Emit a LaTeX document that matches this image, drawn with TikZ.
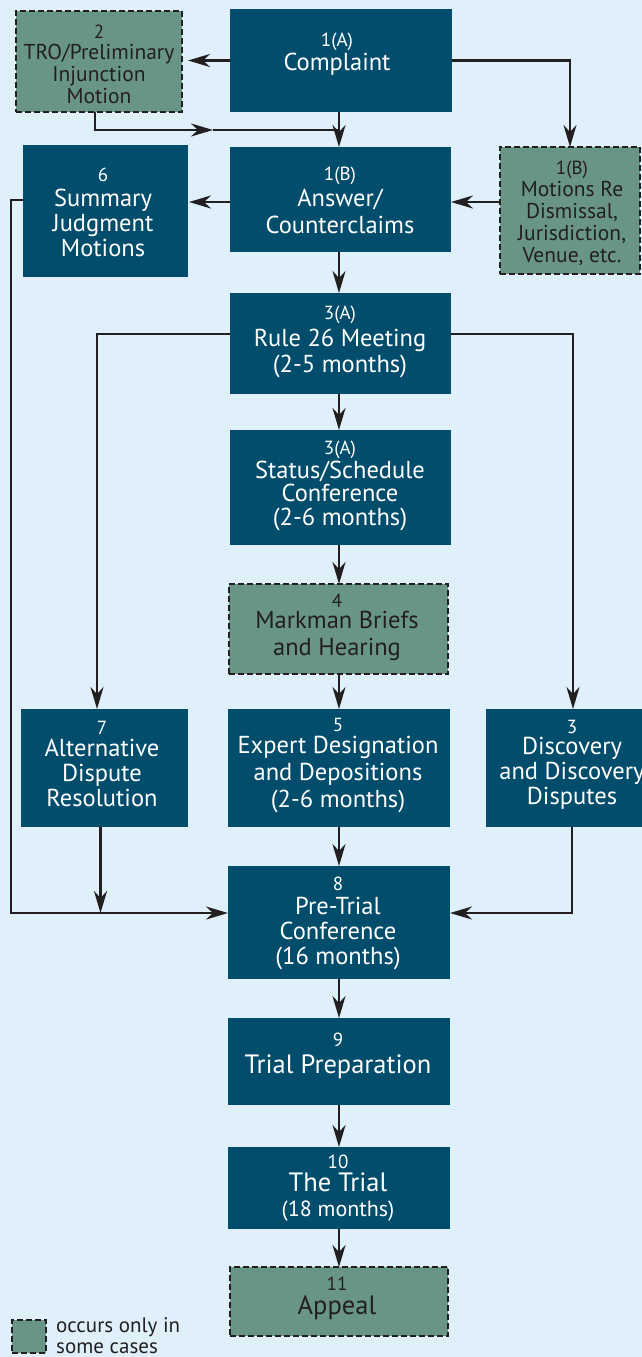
\documentclass[tikz,border=0pt]{standalone}
\usepackage{fontspec}
\setmainfont{PT Sans}
\usetikzlibrary{arrows.meta}
\definecolor{bgc}{RGB}{223,240,251}
\definecolor{boxc}{RGB}{1,77,107}
\definecolor{grn}{RGB}{104,149,134}
\definecolor{ink}{RGB}{35,31,32}
\newcommand{\nf}{\fontsize{19}{25}\selectfont}
\newcommand{\bigf}{\fontsize{26.5}{25}\selectfont}
\newcommand{\smf}{\fontsize{22}{25}\selectfont}
\newcommand{\fsz}[2]{\fontsize{#1}{#2}\selectfont\lineskiplimit=-40pt}
\begin{document}
\begin{tikzpicture}[x=1pt,y=-1pt,
 dbox/.style={fill=boxc, draw=none, inner sep=0pt, outer sep=0pt, anchor=north west},
 gbox/.style={fill=grn, draw=ink, line width=2.4pt, dash pattern=on 6pt off 3pt, inner sep=0pt, outer sep=0pt, anchor=north west},
 wtxt/.style={text=white, align=center, font=\fsz{24.5}{25}, inner sep=0pt},
 gtxt/.style={text=ink, align=center, font=\fsz{24.5}{25}, inner sep=0pt},
 ln/.style={draw=ink, line width=2.5pt},
 arr/.style={ln, -{Stealth[length=22pt,width=13pt,inset=7pt]}},
]
\useasboundingbox (0,0) rectangle (642,1357);
\fill[bgc] (0,0) rectangle (642,1357);

% boxes
\node[dbox, minimum width=222pt, minimum height=103pt] (cA) at (230,9) {};
\node[gbox, minimum width=166pt, minimum height=101pt] (tro) at (16,11) {};
\node[dbox, minimum width=221pt, minimum height=105pt] (ansB) at (230,147) {};
\node[dbox, minimum width=165pt, minimum height=132pt] (summ) at (23,145) {};
\node[gbox, minimum width=140pt, minimum height=127pt] (motB) at (500,147) {};
\node[dbox, minimum width=221pt, minimum height=101pt] (r26) at (230,293) {};
\node[dbox, minimum width=221pt, minimum height=115pt] (stat) at (230,430) {};
\node[gbox, minimum width=219pt, minimum height=90pt] (mark) at (229,584) {};
\node[dbox, minimum width=167pt, minimum height=118pt] (adr) at (21,709) {};
\node[dbox, minimum width=222pt, minimum height=118pt] (expt) at (228,709) {};
\node[dbox, minimum width=174pt, minimum height=118pt] (disc) at (486,709) {};
\node[dbox, minimum width=222pt, minimum height=113pt] (pre) at (228,866) {};
\node[dbox, minimum width=222pt, minimum height=87pt] (prep) at (228,1018) {};
\node[dbox, minimum width=222pt, minimum height=82pt] (trial) at (228,1147) {};
\node[gbox, minimum width=218pt, minimum height=69pt] (appeal) at (230,1267) {};
\node[gbox, minimum width=34pt, minimum height=33pt] (leg) at (12,1320) {};

% texts
\node[wtxt] (tA) at (337,54) {{\nf 1(A)}\\[-1pt]Complaint};
\node[gtxt, font=\fsz{21.5}{22}] (tT) at (99,64) {{\nf 2}\\[-1pt]TRO/Preliminary\\Injunction\\Motion};
\node[wtxt, font=\fsz{24.5}{26.5}] (tB) at (340,200) {{\nf 1(B)}\\Answer/\\Counterclaims};
\node[wtxt] (tS) at (103,212) {{\nf 6}\\Summary\\Judgment\\Motions};
\node[gtxt, font=\fsz{21.5}{22}] (tM) at (572,213) {{\nf 1(B)}\\Motions Re\\Dismissal,\\Jurisdiction,\\Venue, etc.};
\node[wtxt, font=\fsz{24.5}{26.5}] (tR) at (340,342) {{\nf 3(A)}\\Rule 26 Meeting\\(2-5 months)};
\node[wtxt, font=\fsz{24.5}{23.5}] (tSt) at (340,486) {{\nf 3(A)}\\Status/Schedule\\Conference\\(2-6 months)};
\node[gtxt, font=\fsz{24.5}{27}] (tMk) at (337,627) {{\nf 4}\\[-6pt]Markman Briefs\\and Hearing};
\node[wtxt] (tAdr) at (102,764) {{\nf 7}\\[-3pt]Alternative\\Dispute\\Resolution};
\node[wtxt, font=\fsz{24.5}{27}] (tE) at (338,766) {{\nf 5}\\[-5pt]Expert Designation\\and Depositions\\(2-6 months)};
\node[wtxt] (tD) at (572,765) {{\nf 3}\\[-4pt]Discovery\\and Discovery\\Disputes};
\node[wtxt] (tP) at (338,923) {{\nf 8}\\[-1pt]Pre-Trial\\Conference\\(16 months)};
\node[wtxt, font=\fsz{26.5}{27}] (tPr) at (338,1056) {{\nf 9}\\Trial Preparation};
\node[wtxt] (tTr) at (338,1188) {{\nf 10}\\[-2pt]{\bigf The Trial}\\{\smf (18 months)}};
\node[gtxt] (tAp) at (337,1298) {{\nf 11}\\[-1pt]{\bigf Appeal}};
\node[text=ink, align=left, anchor=west, inner sep=0pt, font=\fsz{21}{21}] (tL) at (56,1336) {occurs only in\\some cases};

% connectors
\coordinate (cx) at (339,0);
\coordinate (j1) at (339,130);
\coordinate (m1) at (213,130);
\coordinate (sL) at (11,200);
\coordinate (pj) at (228,913);
\coordinate (rL) at (97,334);
\coordinate (rR) at (573,334);
\coordinate (dj) at (572,913);

\draw[arr, shorten >=6pt] (cA.west) -- (cA.west -| tro.east);
\draw[arr] (cA.east) -| (motB.north);
\draw[arr] (cA.south -| cx) -- (ansB.north -| cx);
\draw[arr] ([xshift=-4pt]tro.south) |- (m1);
\draw[ln] (m1) -- (j1);
\draw[arr] (motB.west |- 0,202) -- (ansB.east |- 0,202);
\draw[arr, shorten >=1pt] (ansB.west |- 0,202) -- (summ.east |- 0,202);
\draw[arr] (summ.west |- sL) -- (sL) -- (sL |- pj) -- (pj);
\draw[arr] (ansB.south -| cx) -- (r26.north -| cx);
\draw[arr] (r26.west |- rL) -- (rL) -- (rL |- adr.north);
\draw[arr] (r26.east |- rR) -- (rR) -- (rR |- disc.north);
\draw[arr] (r26.south -| cx) -- (stat.north -| cx);
\draw[arr] (stat.south -| cx) -- (mark.north -| cx);
\draw[arr] (mark.south -| cx) -- (expt.north -| cx);
\draw[arr] (expt.south -| cx) -- (pre.north -| cx);
\draw[arr] ([xshift=-4pt]adr.south) -- ([xshift=-4pt]adr.south |- pj);
\draw[arr] (disc.south -| dj) -- (dj) -- (dj -| pre.east);
\draw[arr] (pre.south -| cx) -- (prep.north -| cx);
\draw[arr] (prep.south -| cx) -- (trial.north -| cx);
\draw[arr] (trial.south -| cx) -- (appeal.north -| cx);
\end{tikzpicture}
\end{document}
